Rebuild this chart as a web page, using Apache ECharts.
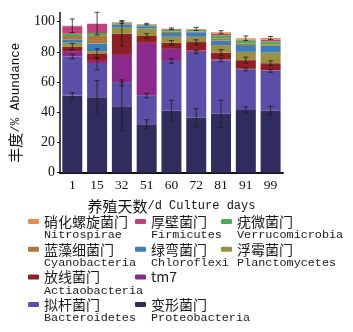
<!DOCTYPE html>
<html>
<head>
<meta charset="utf-8">
<script src="https://cdn.jsdelivr.net/npm/echarts@6/dist/echarts.min.js"></script>
<style>
  html, body { margin: 0; padding: 0; background: #fff; }
  #chart { width: 353px; height: 332px; }
</style>
</head>
<body>
<div id="chart"></div>
<script>
// 养殖天数
const days = ["1", "15", "32", "51", "60", "72", "81", "91", "99"];

// 各门丰度 (%), 自下而上堆叠
const proteobacteria = [51, 50, 44, 32, 41, 36.5, 39, 41.5, 41];
const bacteroidetes = [26, 22, 15.5, 19, 33, 43.5, 35.5, 27, 26.5];
const tm7 = [3.5, 2, 18.5, 35, 8, 1, 0.5, 0.3, 0.3];
const actinobacteria = [3, 5, 14, 4.5, 4, 5.5, 4.5, 5.7, 4.7];
const planctomycetes = [2.5, 1.5, 4, 5, 4, 3.5, 5, 5.5, 7];
const chloroflexi = [2, 5, 2, 1.5, 2.5, 3, 3, 4.5, 4.5];
const cyanobacteria = [2.5, 5.5, 0.7, 0.3, 1, 0.5, 1.5, 1, 1];
const verrucomicrobia = [1.5, 1.5, 0.5, 0.7, 1, 1, 2, 2, 2];
const firmicutes = [5, 6, 0.3, 0.2, 0.5, 0.3, 1, 0.5, 1];
const nitrospirae = [0.3, 0.2, 0.2, 0.2, 0.3, 0.4, 1, 1, 1.2];

// 误差 (标准差)
const errProteo = [2, 11, 16, 3, 7, 6, 9, 2, 3];
const errBactero = [1.5, 4, 2, 1.5, 1.5, 1, 1, 1, 1];
const errActino = [2, 3, 8, 1.5, 1.5, 1.5, 2, 2, 1.5];
const errTotal = [4.5, 7.5, 1, 0.5, 0.5, 1, 1, 1.5, 1];

const phyla = [
  { cn: "变形菌门", en: "Proteobacteria", data: proteobacteria, color: "#302d5e" },
  { cn: "拟杆菌门", en: "Bacteroidetes", data: bacteroidetes, color: "#5b4ea6" },
  { cn: "tm7", en: " ", data: tm7, color: "#8b2a8d" },
  { cn: "放线菌门", en: "Actiaobacteria", data: actinobacteria, color: "#8e1f24" },
  { cn: "浮霉菌门", en: "Planctomycetes", data: planctomycetes, color: "#99913f" },
  { cn: "绿弯菌门", en: "Chloroflexi", data: chloroflexi, color: "#3c7dbb" },
  { cn: "蓝藻细菌门", en: "Cyanobacteria", data: cyanobacteria, color: "#aa7a3c" },
  { cn: "疣微菌门", en: "Verrucomicrobia", data: verrucomicrobia, color: "#4aad52" },
  { cn: "厚壁菌门", en: "Firmicutes", data: firmicutes, color: "#c0417e" },
  { cn: "硝化螺旋菌门", en: "Nitrospirae", data: nitrospirae, color: "#ec8a4c" }
];
const enName = {};
phyla.forEach(p => { enName[p.cn] = p.en; });

// 累计高度, 用于误差线位置
function cumTo(k) {
  return days.map((d, i) => {
    let s = 0;
    for (let j = 0; j <= k; j++) s += phyla[j].data[i];
    return s;
  });
}
const errPoints = [];
[[0, errProteo], [1, errBactero], [3, errActino], [9, errTotal]].forEach(([k, err]) => {
  const c = cumTo(k);
  days.forEach((d, i) => errPoints.push([i, c[i], err[i]]));
});

const chart = echarts.init(document.getElementById("chart"));

// 图例: 三列, 每项两行 (中文 / 英文)
const legendLayout = [
  ["硝化螺旋菌门", 28, 0], ["厚壁菌门", 135, 0], ["疣微菌门", 221, 0],
  ["蓝藻细菌门", 28, 1], ["绿弯菌门", 135, 1], ["浮霉菌门", 221, 1],
  ["放线菌门", 28, 2], ["tm7", 135, 2],
  ["拟杆菌门", 28, 3], ["变形菌门", 135, 3]
];
const legends = legendLayout.map(([name, left, row]) => ({
  left: left,
  top: 214.5 + row * 27.7,
  padding: 0,
  itemWidth: 11,
  itemHeight: 5,
  itemGap: 0,
  icon: "roundRect",
  selectedMode: false,
  data: [name],
  textStyle: {
    padding: [13, 0, 0, 0],
    rich: {
      cn: { fontFamily: "Noto Sans CJK SC", fontSize: 14, lineHeight: 14, color: "#1a1a1a" },
      en: { fontFamily: "Liberation Mono", fontSize: 11.8, lineHeight: 13, color: "#1a1a1a" }
    }
  },
  formatter: n => "{cn|" + n + "}\n{en|" + enName[n] + "}"
}));

const option = {
  animation: false,
  backgroundColor: "#fff",
  grid: { left: 57, right: 70, top: 12.6, bottom: 159.3 },
  legend: legends,
  xAxis: {
    type: "category",
    data: days,
    axisTick: { show: false },
    axisLine: { lineStyle: { color: "#111", width: 2 } },
    axisLabel: { fontFamily: "Liberation Serif", fontSize: 13.5, color: "#111", margin: 6 },
    name: "{cn|养殖天数}{en|/d Culture days}",
    nameLocation: "middle",
    nameGap: 26,
    nameTextStyle: {
      rich: {
        cn: { fontFamily: "Noto Sans CJK SC", fontSize: 15, color: "#111" },
        en: { fontFamily: "Liberation Mono", fontSize: 12, color: "#111" }
      }
    }
  },
  yAxis: {
    type: "value",
    min: 0,
    max: 106,
    splitLine: { show: false },
    axisLine: { show: true, lineStyle: { color: "#111", width: 1.5 } },
    axisTick: { show: true, length: 3, customValues: [0, 20, 40, 60, 80, 100] },
    axisLabel: {
      fontFamily: "Liberation Serif", fontSize: 14, color: "#111", margin: 5,
      customValues: [0, 20, 40, 60, 80, 100]
    },
    name: "{cn|丰度}{en|/% Abundance}",
    nameLocation: "middle",
    nameGap: 36,
    nameTextStyle: {
      padding: [0, 20, 0, 0],
      rich: {
        cn: { fontFamily: "Noto Sans CJK SC", fontSize: 15, color: "#111" },
        en: { fontFamily: "Liberation Mono", fontSize: 12.5, color: "#111" }
      }
    }
  },
  series: phyla.map(p => ({
    name: p.cn,
    type: "bar",
    stack: "total",
    barWidth: 20,
    data: p.data,
    itemStyle: { color: p.color }
  })).concat([{
    type: "custom",
    name: "err",
    encode: { x: 0, y: 1 },
    data: errPoints,
    z: 10,
    renderItem: function (params, api) {
      const i = api.value(0);
      const c = api.value(1);
      const e = api.value(2);
      const hi = api.coord([i, c + e]);
      const lo = api.coord([i, c - e]);
      const st = { stroke: "#1a1a1a", lineWidth: 0.8 };
      return {
        type: "group",
        children: [
          { type: "line", shape: { x1: hi[0], y1: hi[1], x2: lo[0], y2: lo[1] }, style: st },
          { type: "line", shape: { x1: hi[0] - 2.5, y1: hi[1], x2: hi[0] + 2.5, y2: hi[1] }, style: st },
          { type: "line", shape: { x1: lo[0] - 2.5, y1: lo[1], x2: lo[0] + 2.5, y2: lo[1] }, style: st }
        ]
      };
    }
  }])
};

chart.setOption(option);
</script>
</body>
</html>
